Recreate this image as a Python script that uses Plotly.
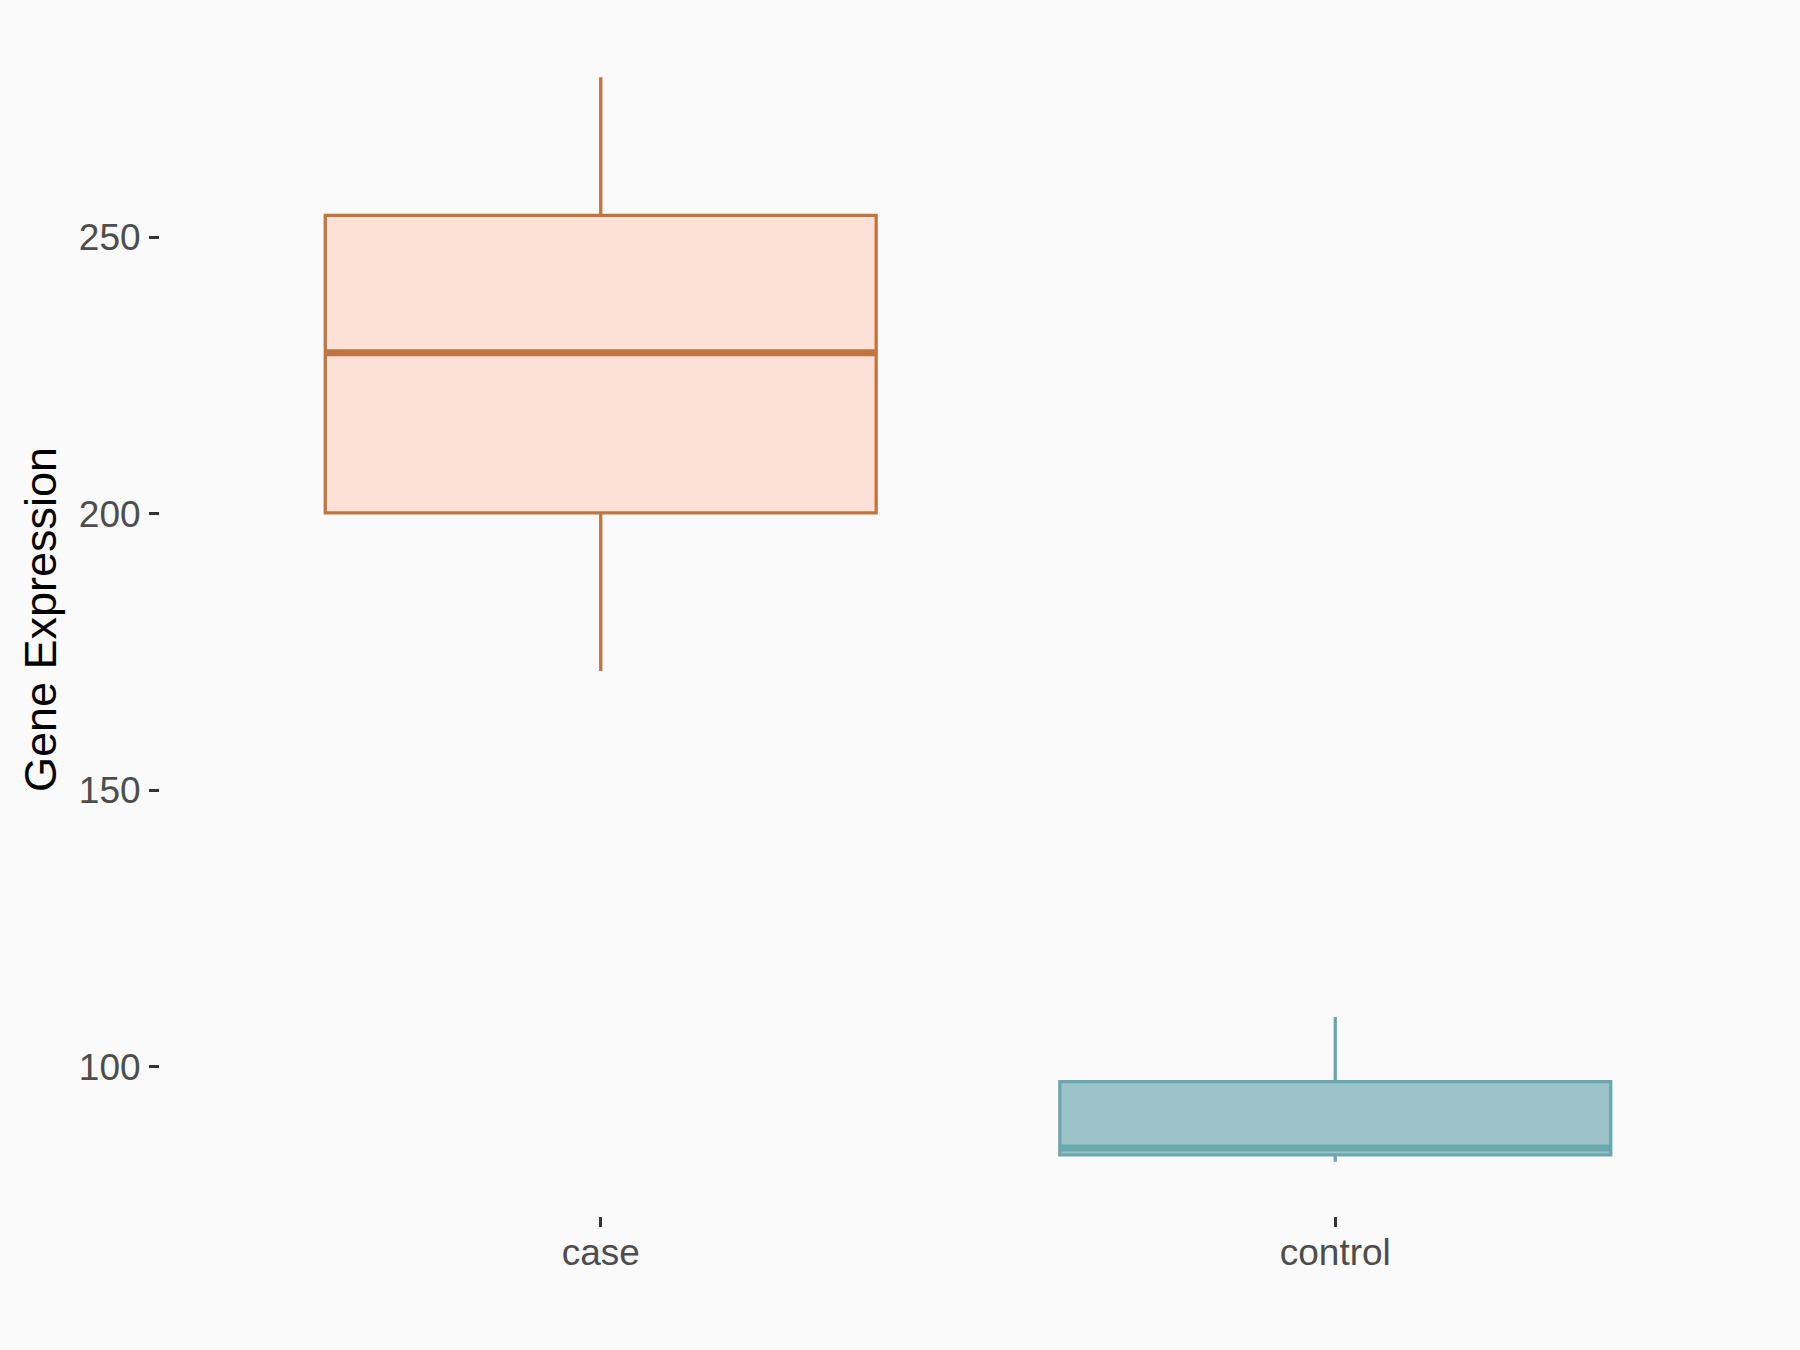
import plotly.graph_objects as go

groups = ["case", "control"]
lower_whisker = [171.6, 82.8]
q1_values = [200.2, 84.05]
medians = [229.15, 85.3]
q3_values = [254.0, 97.3]
upper_whisker = [279.0, 109.0]

fill_colors = ["#FDE0D6", "#9CC4C8"]
line_colors = ["#C07642", "#6AA8AE"]
y_ticks = [100, 150, 200, 250]

BOX_W = 0.75

fig = go.Figure()
for i, g in enumerate(groups):
    fig.add_trace(go.Box(
        x=[g],
        q1=[q1_values[i]], median=[medians[i]], q3=[q3_values[i]],
        lowerfence=[lower_whisker[i]], upperfence=[upper_whisker[i]],
        fillcolor=fill_colors[i],
        line=dict(color=line_colors[i], width=3.3),
        whiskerwidth=0,
        width=BOX_W,
        boxpoints=False,
        showlegend=False,
        hoverinfo="skip",
    ))
    fig.add_shape(type="line", xref="x", yref="y",
                  x0=i - BOX_W / 2, x1=i + BOX_W / 2,
                  y0=medians[i], y1=medians[i],
                  line=dict(color=line_colors[i], width=7))

fig.update_layout(
    width=1800, height=1350,
    margin=dict(l=160, r=24, t=23, b=134),
    paper_bgcolor="#FAFAFA", plot_bgcolor="#FAFAFA",
    font=dict(family="Liberation Sans, Arial, sans-serif", size=37, color="#4D4D4D"),
)
fig.update_xaxes(
    type="category", categoryorder="array", categoryarray=groups,
    range=[-0.6, 1.6],
    showgrid=False, zeroline=False, showline=False,
    ticks="outside", ticklen=10, tickwidth=2.5, tickcolor="#333333",
    tickfont=dict(size=37, color="#4D4D4D"),
    ticklabelstandoff=-6,
)
fig.update_yaxes(
    range=[73.0, 288.8],
    tickvals=y_ticks,
    showgrid=False, zeroline=False, showline=False,
    ticks="outside", ticklen=10, tickwidth=2.5, tickcolor="#333333",
    tickfont=dict(size=37, color="#4D4D4D"),
    ticklabelstandoff=1,
    title=dict(text="Gene Expression", font=dict(size=45, color="#000000"), standoff=8),
)

fig.write_html(
    "out.html",
    config={"displayModeBar": False},
    post_script="document.body.style.margin='0';document.body.style.background='#FAFAFA';",
)
